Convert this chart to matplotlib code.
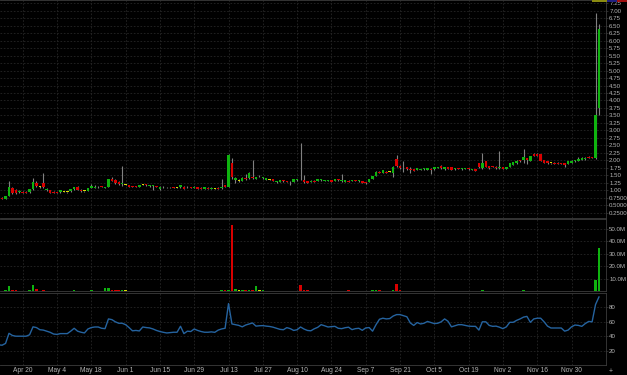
import numpy as np
import pandas as pd
import matplotlib
matplotlib.use("Agg")
from matplotlib import pyplot as plt
from matplotlib.ticker import FuncFormatter, FixedLocator
from matplotlib.patches import Rectangle

# trading days shown on the chart
dates = pd.bdate_range("2020-04-09", "2020-12-10")

opens = [0.74, 0.75, 0.72, 0.81, 1.07, 1.01, 0.93, 0.95, 0.95, 0.93,
         1.03, 1.23, 1.10, 1.23, 0.99, 0.99, 0.95, 0.94, 0.93, 0.95,
         0.93, 0.96, 1.03, 1.09, 1.01, 0.96, 0.98, 1.07, 1.08, 1.09,
         1.12, 1.07, 1.12, 1.37, 1.34, 1.29, 1.20, 1.19, 1.18, 1.14,
         1.12, 1.12, 1.18, 1.21, 1.13, 1.13, 1.14, 1.03, 1.12, 1.11,
         1.09, 1.10, 1.08, 1.09, 1.12, 1.12, 1.10, 1.07, 1.09, 1.07,
         1.04, 1.08, 1.04, 1.04, 1.08, 1.08, 1.16, 1.12, 1.92, 1.34,
         1.31, 1.32, 1.42, 1.40, 1.42, 1.37, 1.46, 1.40, 1.34, 1.34,
         1.37, 1.26, 1.29, 1.34, 1.31, 1.29, 1.27, 1.33, 1.39, 1.34,
         1.31, 1.27, 1.32, 1.31, 1.33, 1.31, 1.31, 1.34, 1.31, 1.35,
         1.32, 1.29, 1.32, 1.31, 1.33, 1.30, 1.31, 1.28, 1.29, 1.37,
         1.48, 1.62, 1.59, 1.62, 1.62, 1.59, 2.03, 1.81, 1.76, 1.77,
         1.71, 1.70, 1.68, 1.69, 1.70, 1.68, 1.71, 1.70, 1.74, 1.81,
         1.70, 1.77, 1.76, 1.70, 1.74, 1.70, 1.71, 1.72, 1.69, 1.70,
         1.90, 1.73, 1.96, 1.81, 1.81, 1.79, 1.74, 1.77, 1.71, 1.77,
         1.85, 1.90, 2.01, 2.01, 2.07, 1.99, 2.20, 2.20, 2.21, 2.01,
         1.96, 1.90, 1.92, 1.92, 1.90, 1.90, 1.88, 1.92, 1.96, 1.99,
         2.01, 2.03, 2.12, 2.10, 2.08, 3.74]
highs = [0.76, 0.77, 0.81, 1.31, 1.10, 1.04, 0.99, 0.97, 0.96, 1.05,
         1.42, 1.30, 1.13, 1.59, 1.08, 1.01, 0.97, 0.95, 1.00, 0.97,
         0.95, 1.04, 1.10, 1.13, 1.03, 0.98, 1.08, 1.21, 1.17, 1.13,
         1.13, 1.11, 1.39, 1.43, 1.36, 1.31, 1.81, 1.22, 1.19, 1.15,
         1.13, 1.19, 1.20, 1.22, 1.17, 1.18, 1.15, 1.13, 1.13, 1.12,
         1.10, 1.11, 1.10, 1.19, 1.13, 1.15, 1.11, 1.13, 1.10, 1.10,
         1.10, 1.09, 1.09, 1.06, 1.09, 1.37, 1.17, 2.21, 2.07, 1.43,
         1.36, 1.43, 1.55, 1.62, 2.01, 1.44, 1.51, 1.44, 1.41, 1.36,
         1.38, 1.32, 1.35, 1.35, 1.32, 1.30, 1.38, 1.38, 2.57, 1.51,
         1.32, 1.33, 1.33, 1.38, 1.36, 1.35, 1.35, 1.35, 1.38, 1.36,
         1.53, 1.35, 1.33, 1.35, 1.34, 1.33, 1.32, 1.29, 1.38, 1.47,
         1.63, 1.64, 1.67, 1.64, 1.64, 1.80, 2.18, 1.83, 1.96, 1.78,
         1.79, 1.71, 1.74, 1.72, 1.74, 1.74, 1.73, 1.78, 1.78, 1.85,
         1.78, 1.78, 1.77, 1.74, 1.75, 1.74, 1.74, 1.73, 1.72, 1.71,
         1.91, 2.26, 1.97, 1.82, 1.82, 1.80, 2.32, 1.78, 1.77, 1.91,
         1.94, 2.00, 2.02, 2.37, 2.08, 2.16, 2.23, 2.26, 2.22, 2.02,
         1.97, 1.92, 1.93, 1.93, 1.91, 1.92, 1.97, 2.00, 2.02, 2.12,
         2.12, 2.10, 2.14, 2.12, 6.91, 6.56]
lows = [0.71, 0.70, 0.70, 0.80, 0.88, 0.87, 0.91, 0.91, 0.91, 0.92,
        1.01, 1.12, 1.08, 1.08, 0.97, 0.91, 0.90, 0.90, 0.92, 0.94,
        0.92, 0.95, 1.02, 1.00, 0.95, 0.95, 0.97, 1.06, 1.07, 1.08,
        1.09, 1.06, 1.10, 1.31, 1.22, 1.19, 1.14, 1.16, 1.11, 1.11,
        1.09, 1.11, 1.16, 1.15, 1.12, 0.99, 1.10, 1.02, 1.08, 1.08,
        1.08, 1.07, 1.07, 1.08, 1.03, 1.08, 1.06, 1.06, 1.03, 1.04,
        1.03, 1.04, 1.03, 1.03, 1.04, 1.05, 1.11, 1.09, 1.38, 1.25,
        1.28, 1.31, 1.35, 1.38, 1.37, 1.36, 1.44, 1.39, 1.33, 1.33,
        1.30, 1.25, 1.28, 1.29, 1.27, 1.18, 1.26, 1.32, 1.35, 1.25,
        1.24, 1.26, 1.27, 1.30, 1.32, 1.30, 1.30, 1.28, 1.30, 1.32,
        1.29, 1.28, 1.26, 1.30, 1.30, 1.29, 1.24, 1.21, 1.28, 1.36,
        1.47, 1.56, 1.58, 1.56, 1.60, 1.45, 1.78, 1.72, 1.62, 1.69,
        1.57, 1.63, 1.67, 1.68, 1.69, 1.67, 1.53, 1.69, 1.73, 1.72,
        1.69, 1.70, 1.67, 1.69, 1.71, 1.69, 1.70, 1.69, 1.68, 1.64,
        1.73, 1.70, 1.78, 1.72, 1.76, 1.72, 1.70, 1.70, 1.70, 1.76,
        1.84, 1.89, 1.95, 1.90, 1.87, 1.98, 2.14, 2.13, 1.98, 1.91,
        1.89, 1.88, 1.87, 1.87, 1.86, 1.79, 1.87, 1.91, 1.95, 1.98,
        2.00, 2.02, 2.06, 2.06, 2.05, 3.52]
closes = [0.72, 0.72, 0.79, 1.09, 0.90, 0.90, 0.97, 0.92, 0.92, 1.03,
          1.28, 1.15, 1.10, 1.10, 1.03, 0.92, 0.92, 0.92, 0.99, 0.95,
          0.93, 1.03, 1.09, 1.01, 0.96, 0.96, 1.07, 1.14, 1.12, 1.12,
          1.10, 1.10, 1.37, 1.32, 1.23, 1.21, 1.21, 1.19, 1.12, 1.12,
          1.10, 1.18, 1.18, 1.16, 1.16, 1.14, 1.11, 1.12, 1.09, 1.09,
          1.09, 1.08, 1.08, 1.18, 1.04, 1.09, 1.07, 1.12, 1.04, 1.05,
          1.09, 1.05, 1.08, 1.04, 1.05, 1.09, 1.12, 2.18, 1.43, 1.40,
          1.31, 1.42, 1.39, 1.57, 1.40, 1.43, 1.46, 1.43, 1.40, 1.34,
          1.31, 1.31, 1.34, 1.30, 1.28, 1.26, 1.37, 1.37, 1.36, 1.29,
          1.25, 1.32, 1.28, 1.37, 1.35, 1.34, 1.34, 1.29, 1.37, 1.33,
          1.35, 1.34, 1.27, 1.34, 1.31, 1.32, 1.25, 1.23, 1.37, 1.46,
          1.62, 1.57, 1.66, 1.57, 1.62, 1.79, 1.81, 1.73, 1.79, 1.70,
          1.69, 1.64, 1.73, 1.71, 1.73, 1.73, 1.69, 1.77, 1.77, 1.73,
          1.77, 1.71, 1.68, 1.73, 1.72, 1.73, 1.73, 1.70, 1.71, 1.65,
          1.79, 1.90, 1.79, 1.73, 1.77, 1.73, 1.77, 1.71, 1.76, 1.90,
          1.93, 1.99, 1.96, 2.12, 2.01, 2.15, 2.15, 2.15, 1.99, 1.92,
          1.90, 1.90, 1.88, 1.88, 1.87, 1.85, 1.96, 1.99, 2.01, 2.03,
          2.07, 2.09, 2.07, 2.08, 3.52, 6.38]

# volume in millions of shares
volume_m = [0.3, 0.3, 0.5, 4.0, 1.0, 0.8, 0.3, 0.3, 0.3, 0.5,
            5.2, 1.3, 0.4, 1.2, 0.3, 0.4, 0.3, 0.2, 0.3, 0.2,
            0.2, 0.4, 0.5, 0.4, 0.3, 0.2, 0.4, 0.6, 0.4, 0.3,
            0.3, 2.5, 2.6, 1.0, 0.8, 0.7, 1.0, 0.8, 0.4, 0.3,
            0.2, 0.3, 0.2, 0.3, 0.2, 0.2, 0.2, 0.3, 0.2, 0.2,
            0.2, 0.2, 0.2, 0.4, 0.3, 0.2, 0.2, 0.2, 0.2, 0.2,
            0.2, 0.2, 0.2, 0.2, 0.2, 0.8, 0.6, 1.0, 53.0, 2.0,
            1.2, 1.0, 0.8, 1.0, 0.8, 4.0, 1.0, 0.5, 0.4, 0.3,
            0.3, 0.3, 0.3, 0.2, 0.2, 0.3, 0.3, 0.3, 4.5, 1.0,
            0.7, 0.3, 0.2, 0.3, 0.2, 0.2, 0.2, 0.3, 0.2, 0.2,
            0.2, 0.3, 0.7, 0.2, 0.2, 0.2, 0.3, 0.3, 0.4, 0.5,
            0.8, 0.5, 0.4, 0.4, 0.3, 1.0, 5.3, 0.6, 0.4, 0.3,
            0.3, 0.3, 0.2, 0.2, 0.2, 0.2, 0.3, 0.2, 0.2, 0.3,
            0.2, 0.2, 0.3, 0.2, 0.2, 0.2, 0.2, 0.2, 0.2, 0.2,
            0.4, 0.8, 0.4, 0.3, 0.2, 0.2, 0.4, 0.2, 0.2, 0.3,
            0.3, 0.3, 0.3, 1.0, 0.4, 0.4, 0.3, 0.3, 0.4, 0.3,
            0.2, 0.2, 0.2, 0.2, 0.2, 0.3, 0.3, 0.3, 0.3, 0.3,
            0.3, 0.3, 0.3, 0.4, 9.0, 35.0]

rsi = [28.0, 27.5, 30.0, 44.0, 41.0, 40.0, 40.0, 40.0, 40.0, 42.0,
       53.0, 52.0, 49.0, 48.5, 47.0, 45.4, 43.0, 42.5, 43.6, 43.6,
       43.6, 47.0, 51.0, 47.0, 45.5, 44.5, 50.0, 52.0, 52.8, 52.8,
       51.0, 50.5, 64.0, 63.0, 60.0, 58.0, 58.0, 56.0, 52.0, 47.5,
       48.0, 47.3, 52.8, 52.0, 51.5, 50.0, 48.0, 46.5, 45.4, 44.5,
       45.0, 45.5, 45.5, 53.8, 43.6, 47.0, 46.5, 50.0, 48.0, 46.5,
       45.5, 45.5, 46.0, 45.4, 48.5, 50.1, 51.0, 85.3, 57.0, 56.0,
       55.0, 53.0, 55.5, 57.0, 58.4, 54.0, 54.5, 54.7, 54.0, 53.5,
       52.5, 51.0, 49.5, 49.0, 51.9, 50.5, 48.0, 49.0, 52.8, 50.0,
       48.0, 47.5, 50.3, 52.3, 56.0, 54.5, 52.8, 53.3, 53.7, 51.0,
       50.5, 51.8, 52.5, 49.1, 50.5, 51.0, 48.2, 51.5, 52.0, 47.0,
       56.0, 63.5, 65.0, 64.0, 64.5, 68.0, 70.0, 70.0, 68.5, 67.0,
       58.4, 55.0, 59.0, 57.0, 58.0, 60.5, 59.0, 57.5, 58.0, 60.0,
       64.0, 60.7, 53.0, 54.5, 56.0, 56.0, 55.0, 54.0, 53.7, 53.7,
       48.5, 60.0, 60.0, 55.0, 53.7, 54.0, 52.5, 50.5, 53.0, 59.3,
       59.3, 62.0, 64.0, 66.5, 67.5, 59.3, 64.0, 65.0, 65.0, 60.0,
       54.0, 51.4, 51.4, 51.4, 51.4, 47.0, 48.5, 53.0, 55.5, 55.0,
       53.7, 57.5, 60.5, 60.0, 84.0, 94.5]

price_ticks = np.arange(0.25, 7.26, 0.25)
vol_ticks = [10e6, 20e6, 30e6, 40e6, 50e6]
rsi_ticks = [20, 40, 60, 80]
label_days = pd.date_range("2020-04-20", "2020-11-30", freq="14D")

##########################################################################
# colours
green = "#0fb30f"
red = "#d80000"
yellow = "#dcdc00"
wick = "#808080"
txt = "#b4b4b4"
gridc = "#262626"
spinec = "#3c3c3c"

plt.rcParams["font.family"] = ["Liberation Sans", "DejaVu Sans"]

o = np.array(opens)
c = np.array(closes)
x = np.arange(len(dates))
cols = np.where(c > o, green, np.where(c < o, red, yellow))

W, H = 627, 375
fig = plt.figure(figsize=(W / 100, H / 100), dpi=100, facecolor="black")

right = 606 / W
ax1 = fig.add_axes([0, 1 - 218 / H, right, 218 / H])
ax2 = fig.add_axes([0, 1 - 291 / H, right, 72 / H], sharex=ax1)
ax3 = fig.add_axes([0, 1 - 365 / H, right, 72 / H], sharex=ax1)

tick_pos = [dates.get_loc(d) for d in label_days]
tick_lab = [f"{d:%b} {d.day}" for d in label_days]

for ax in (ax1, ax2, ax3):
    ax.set_facecolor("black")
    ax.yaxis.tick_right()
    ax.tick_params(axis="y", colors=txt, labelsize=4.4, length=1.5, pad=0.8, width=0.5)
    ax.tick_params(axis="y", color=spinec)
    ax.tick_params(axis="x", colors=txt, labelsize=4.8, length=0, pad=1.5)
    ax.xaxis.set_major_locator(FixedLocator(tick_pos))
    ax.grid(True, color=gridc, linewidth=0.6, linestyle=(0, (2, 2)))
    ax.set_axisbelow(True)
    ax.spines["left"].set_visible(False)
    for s in ("right", "top", "bottom"):
        ax.spines[s].set_color(spinec)
        ax.spines[s].set_linewidth(0.6)
    ax.set_xlim(0.38, 177.05)

# candles
ax1.vlines(x, lows, highs, color=wick, linewidth=0.8, zorder=2)
ax1.bar(x, np.maximum(np.abs(c - o), 0.03), bottom=np.minimum(o, c), width=0.72,
        color=cols, linewidth=0, zorder=3)
ax1.set_ylim(0.07, 7.36)
ax1.yaxis.set_major_locator(FixedLocator(price_ticks))
ax1.yaxis.set_major_formatter(FuncFormatter(lambda v, p: f"{v:.2f}" if v >= 0.99 else f"{v:.4f}"))
ax1.tick_params(axis="x", labelbottom=False)

# volume
ax2.bar(x, np.array(volume_m) * 1e6, width=0.75, color=cols, linewidth=0, zorder=3)
ax2.set_ylim(0, 58e6)
ax2.yaxis.set_major_locator(FixedLocator(vol_ticks))
ax2.yaxis.set_major_formatter(FuncFormatter(lambda v, p: f"{v / 1e6:.1f}M"))
ax2.tick_params(axis="x", labelbottom=False)

# rsi
ax3.plot(x, rsi, color="#25639f", linewidth=1.0, zorder=3)
ax3.set_ylim(0, 100)
ax3.yaxis.set_major_locator(FixedLocator(rsi_ticks))
ax3.set_xticklabels(tick_lab)

# little colour strip at top right and corner mark
fig.patches.append(Rectangle((592 / W, 1 - 2 / H), 15 / W, 2 / H, transform=fig.transFigure,
                             facecolor="#8a8a10", edgecolor="none"))
fig.patches.append(Rectangle((607 / W, 1 - 2 / H), 10 / W, 2 / H, transform=fig.transFigure,
                             facecolor="#202080", edgecolor="none"))
fig.patches.append(Rectangle((617 / W, 1 - 2 / H), 10 / W, 2 / H, transform=fig.transFigure,
                             facecolor="#a01010", edgecolor="none"))
fig.text(609 / W, 1 - 372 / H, "+", color=txt, fontsize=5, ha="left", va="center")

plt.savefig("out.png", dpi=100, facecolor="black")
